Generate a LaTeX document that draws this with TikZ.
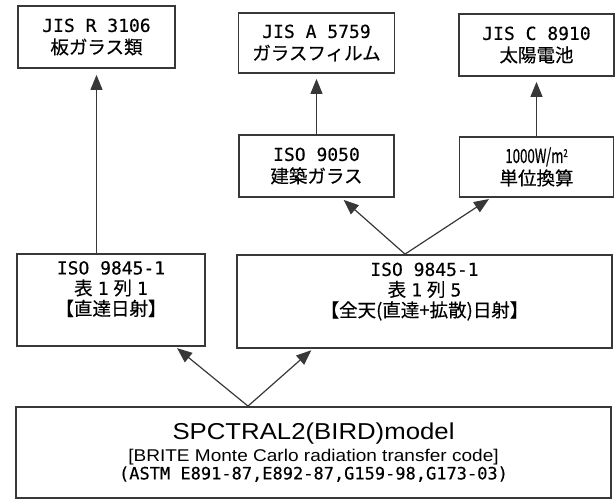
\documentclass[tikz,border=0pt]{standalone}
\usepackage{fontspec}
\setmainfont{Liberation Sans}
\newfontfamily\jp[FakeBold=0.4]{Noto Sans CJK JP}
\newfontfamily\mono[FakeBold=0.4]{DejaVu Sans Mono}
\newfontfamily\jpn[FakeStretch=0.68,FakeBold=0.4]{Noto Sans CJK JP}
\newfontfamily\arialw[FakeStretch=1.12]{Liberation Sans}
\usetikzlibrary{arrows.meta,calc}
\newcommand\ml[1]{{\mono #1}}
\newcommand\jl[1]{{\jp\fontsize{18.5}{22}\selectfont #1}}
\begin{document}
\begin{tikzpicture}[x=1pt,y=-1pt,
  box/.style={draw=black!78,line width=1.8pt,rectangle,inner sep=0pt,align=center,text=black,
    font=\fontsize{18}{22}\selectfont},
  tall/.style={font=\fontsize{18}{20.5}\selectfont},
  arr/.style={draw=black!78,line width=1.2pt,-{Triangle[length=15pt,width=12pt]},shorten >=4pt}]
\useasboundingbox (0,0) rectangle (616,499);

% top row
\node[box,minimum width=157pt,minimum height=62pt] (jisR) at (96.5,37) {\ml{JIS R 3106}\\\jl{板ガラス類}};
\node[box,minimum width=156pt,minimum height=60pt] (jisA) at (316.5,43) {\ml{JIS A 5759}\\\jl{ガラスフィルム}};
\node[box,minimum width=155pt,minimum height=62pt] (jisC) at (536.5,45) {\ml{JIS C 8910}\\\jl{太陽電池}};

% middle row
\node[box,minimum width=155pt,minimum height=62pt] (iso9050) at (316.5,166) {\ml{ISO 9050}\\\jl{建築ガラス}};
\node[box,minimum width=154pt,minimum height=60pt] (w1000) at (536.5,167)
  {{\jpn\fontsize{19.5}{22}\selectfont 1000W/m\raisebox{6pt}{\fontsize{11}{11}\selectfont 2}}\\\jl{単位換算}};

% lower row
\node[box,tall,minimum width=188pt,minimum height=92pt] (isoL) at (111,300)
  {\ml{ISO 9845-1}\\\jl{表}\hspace{5pt}\ml{1}\hspace{5pt}\jl{列}\hspace{5pt}\ml{1}\\\jl{【直達日射】}\\[3pt]};
\node[box,tall,minimum width=375pt,minimum height=93pt] (isoR) at (424.5,301.5)
  {\ml{ISO 9845-1}\\\jl{表}\hspace{5pt}\ml{1}\hspace{5pt}\jl{列}\hspace{5pt}\ml{5}\\\jl{【全天(直達+拡散)日射】}\\[3pt]};

% bottom
\node[box,minimum width=595pt,minimum height=91pt,font=\fontsize{16}{16}\selectfont] (model) at (313.5,452.5)
  {{\arialw\fontsize{23}{23}\selectfont SPCTRAL2(BIRD)model}\\[4pt]
   {\arialw\fontsize{17}{17}\selectfont [BRITE Monte Carlo radiation transfer code]}\\
   {\mono\fontsize{17}{17}\selectfont (ASTM E891-87,E892-87,G159-98,G173-03)}};

% connectors
\draw[arr,shorten >=6pt] (isoL.north -| jisR.south) -- (jisR.south);
\draw[arr,shorten >=5pt] (iso9050.north) -- (jisA.south);
\draw[arr,shorten >=5pt] (w1000.north) -- (jisC.south);
\draw[arr,shorten >=3pt] ([xshift=-19.5pt]isoR.north) -- (iso9050.-52);
\draw[arr,shorten >=2pt] ([xshift=-19.5pt]isoR.north) -- (w1000.-146);
\draw[arr,shorten >=2pt] ([xshift=-65.5pt]model.north) -- (isoL.-36);
\draw[arr,shorten >=2pt] ([xshift=-65.5pt]model.north) -- (isoR.-157);
\end{tikzpicture}
\end{document}
